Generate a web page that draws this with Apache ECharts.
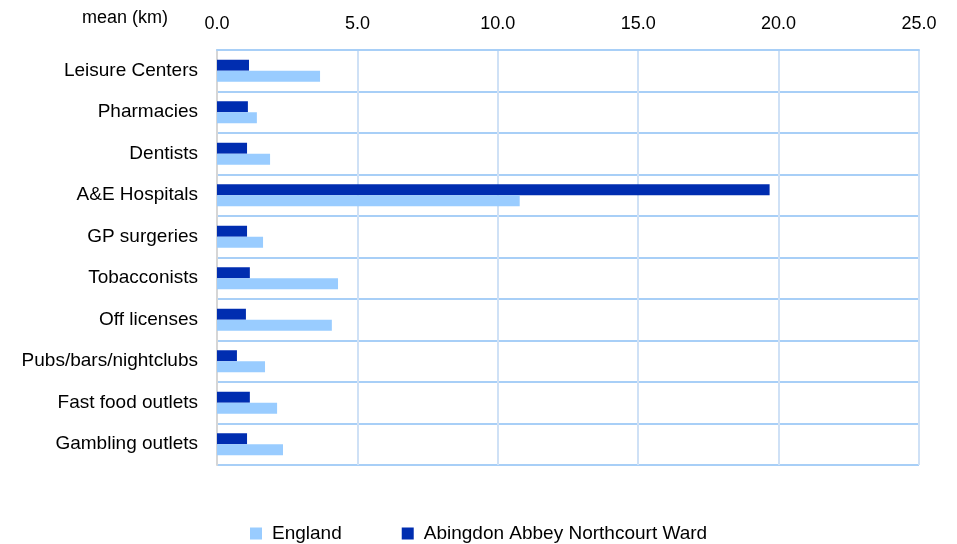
<!DOCTYPE html>
<html>
<head>
<meta charset="utf-8">
<script src="https://cdn.jsdelivr.net/npm/echarts@6/dist/echarts.min.js"></script>
<style>
  html, body { margin: 0; padding: 0; background: #fff; }
  #chart { width: 957px; height: 544px; }
</style>
</head>
<body>
<div id="chart"></div>
<script>
var categories = ['Leisure Centers', 'Pharmacies', 'Dentists', 'A&E Hospitals', 'GP surgeries',
                  'Tobacconists', 'Off licenses', 'Pubs/bars/nightclubs', 'Fast food outlets', 'Gambling outlets'];
var england = [3.67, 1.42, 1.89, 10.78, 1.64, 4.31, 4.09, 1.71, 2.14, 2.35];
var abingdon = [1.14, 1.10, 1.07, 19.68, 1.07, 1.17, 1.03, 0.71, 1.17, 1.07];
var xTicks = [0, 5, 10, 15, 20, 25];

var font = 'Liberation Sans, Arial, sans-serif';

echarts.init(document.getElementById('chart')).setOption({
    animation: false,
    title: {
        text: 'mean (km)',
        left: 77,
        top: 4,
        textStyle: { fontFamily: font, fontSize: 18, fontWeight: 'normal', color: '#000' }
    },
    legend: {
        data: ['England', 'Abingdon Abbey Northcourt Ward'],
        left: 245,
        top: 519,
        itemWidth: 12,
        itemHeight: 12,
        itemGap: 60,
        icon: 'rect',
        textStyle: { fontFamily: font, fontSize: 19, color: '#000', padding: [0, 0, 0, 5] }
    },
    grid: {
        left: 217,
        right: 38,
        top: 50,
        bottom: 79
    },
    xAxis: {
        type: 'value',
        position: 'top',
        min: xTicks[0],
        max: xTicks[xTicks.length - 1],
        interval: 5,
        axisLine: { show: true, lineStyle: { color: '#a8cff7', width: 2 } },
        axisTick: { show: false },
        axisLabel: {
            margin: 17,
            fontFamily: font,
            fontSize: 18,
            color: '#000',
            formatter: function (v) { return v.toFixed(1); }
        },
        splitLine: { show: true, lineStyle: { color: '#cfe1f6', width: 2 } }
    },
    yAxis: {
        type: 'category',
        inverse: true,
        data: categories,
        axisLine: { show: true, lineStyle: { color: '#d6d6d6', width: 2 } },
        axisTick: { show: false },
        axisLabel: {
            margin: 19,
            fontFamily: font,
            fontSize: 19,
            color: '#000'
        },
        splitLine: { show: true, lineStyle: { color: '#a8cff7', width: 2 } }
    },
    series: [
        {
            name: 'Abingdon Abbey Northcourt Ward',
            type: 'bar',
            data: abingdon,
            barWidth: 11,
            barGap: '0%',
            itemStyle: { color: '#002db0' }
        },
        {
            name: 'England',
            type: 'bar',
            data: england,
            barWidth: 11,
            barGap: '0%',
            itemStyle: { color: '#99ccff' }
        }
    ]
});
</script>
</body>
</html>
